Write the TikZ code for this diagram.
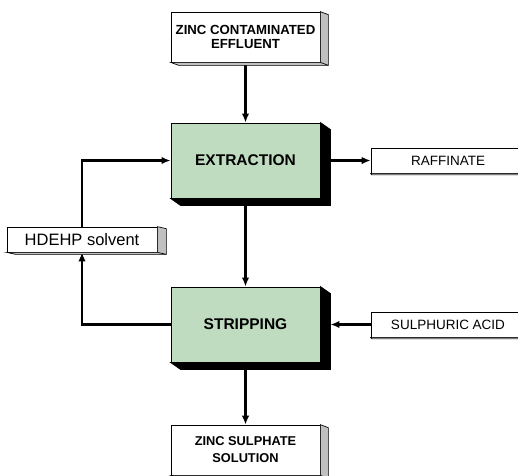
\documentclass[tikz,border=0pt]{standalone}
\usepackage{fontspec}
\setmainfont{Liberation Sans}
\usetikzlibrary{arrows.meta,positioning}

\definecolor{stagegreen}{HTML}{C0DCC0}
\definecolor{sidegrey}{HTML}{C0C0C0}

% extruded side and bottom faces of a box
\newcommand{\boxdepth}[4]{%
  \filldraw[fill=#4, line width=0.7pt]
    (#1.north east) -- ++(#2,#3) -- ([shift={(#2,#3)}]#1.south east)
    -- ([shift={(#2,#3)}]#1.south west) -- (#1.south west) -- (#1.south east) -- cycle;
  \draw[line width=0.7pt] (#1.south east) -- ++(#2,#3);
}

\begin{document}
\begin{tikzpicture}[
      x=1pt, y=-1pt,
      stagebox/.style={draw, line width=0.9pt, fill=stagegreen, inner sep=0pt,
        minimum width=149pt, minimum height=75pt,
        font=\fontsize{15.5}{18}\selectfont\bfseries},
      feedbox/.style={draw, line width=0.7pt, fill=white, inner sep=0pt, align=center,
        minimum width=149pt, minimum height=50pt},
      streambox/.style={draw, line width=0.7pt, fill=white, inner sep=0pt,
        minimum width=154pt, minimum height=25pt,
        font=\fontsize{13.5}{16}\selectfont},
      flow/.style={line width=2.5pt, -{Latex[length=9pt,width=7.5pt]}},
      link/.style={line width=2.5pt}
    ]

    \useasboundingbox (0,0) rectangle (518,475);

    \node[stagebox] (extraction) at (245.5,160.5) {EXTRACTION};
    \node[stagebox] (stripping) at (245.5,324.5) {STRIPPING};

    \node[feedbox, font=\fontsize{13.2}{14}\selectfont\bfseries] (effluent) at (245.5,37)
      {ZINC CONTAMINATED\\EFFLUENT};
    \node[feedbox, font=\fontsize{12.8}{17}\selectfont\bfseries] (sulphate) at (245.5,450)
      {ZINC SULPHATE\\SOLUTION};

    \node[streambox] (raffinate) at (448,160.5) {RAFFINATE};
    \node[streambox] (acid) at (448,324.5) {SULPHURIC ACID};
    \node[streambox, minimum width=150pt, font=\fontsize{16.5}{18}\selectfont] (solvent) at (82,239.5)
      {HDEHP solvent};

    % connectors
    \draw[flow] (effluent.south) -- (extraction.north);
    \draw[flow] (extraction.south) -- (stripping.north);
    \draw[flow] (stripping.south) -- (sulphate.north);
    \draw[flow] ([xshift=10pt]extraction.east) -- (raffinate.west);
    \draw[flow] (acid.west) -- ([xshift=10pt]stripping.east);
    \draw[flow] (stripping.west) -| (solvent.south);
    \draw[flow] (solvent.north) |- (extraction.west);

    % box depth
    \boxdepth{extraction}{10}{7}{black}
    \boxdepth{stripping}{10}{7}{black}
    \boxdepth{effluent}{8}{3}{sidegrey}
    \boxdepth{sulphate}{8}{3}{sidegrey}
    \boxdepth{solvent}{9}{2}{sidegrey}
    \boxdepth{raffinate}{1}{1.5}{sidegrey}
    \boxdepth{acid}{1}{1.5}{sidegrey}

  \end{tikzpicture}
\end{document}
